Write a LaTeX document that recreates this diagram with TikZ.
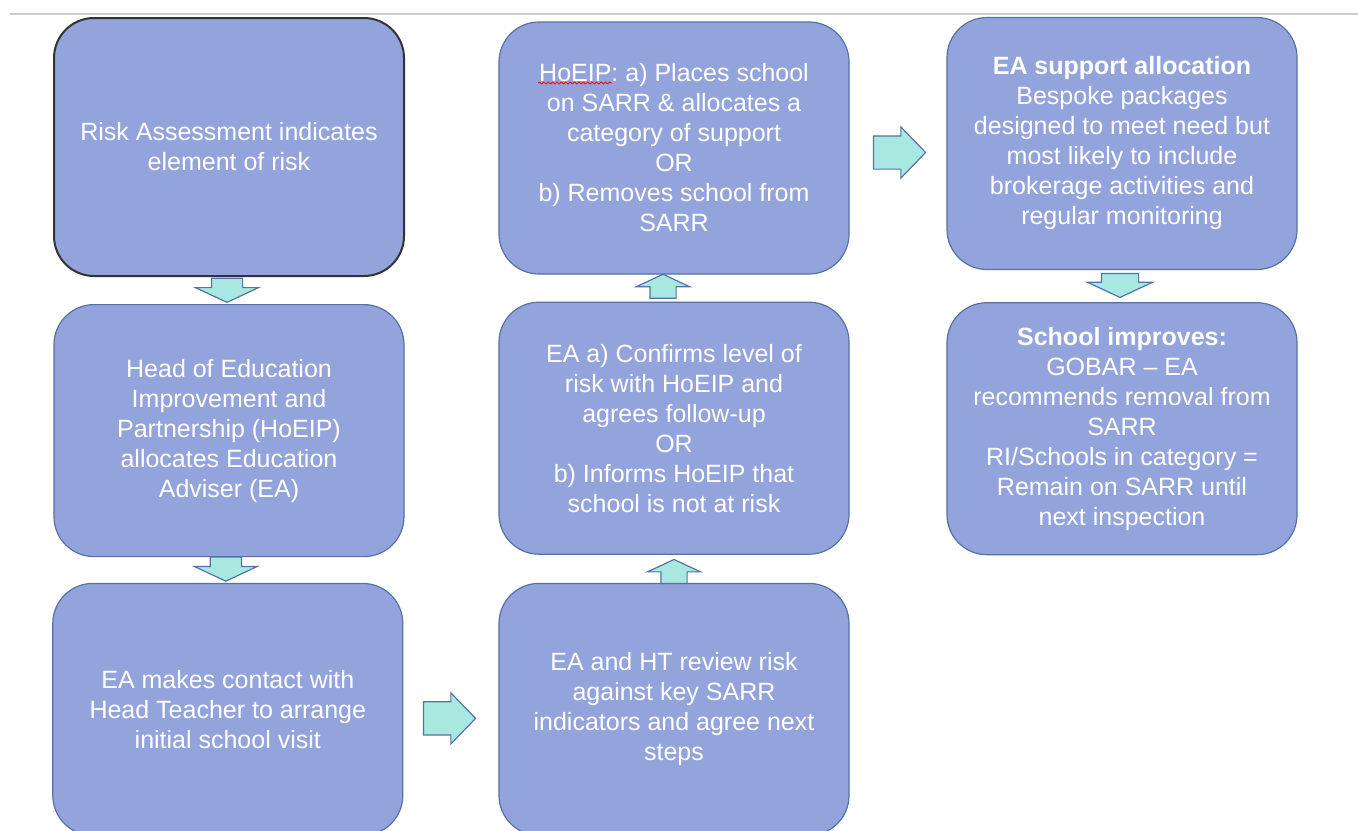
\documentclass[tikz,border=0pt]{standalone}
\usepackage{fontspec}
\setmainfont{Liberation Sans}
\usetikzlibrary{positioning,calc,shapes.arrows,decorations.pathmorphing}
\definecolor{boxfill}{RGB}{147,164,220}
\definecolor{boxline}{RGB}{84,114,166}
\definecolor{arrowfill}{RGB}{168,232,224}
\definecolor{arrowline}{RGB}{82,116,168}
\definecolor{rulegray}{RGB}{204,204,204}
\newcommand{\boxfont}{\fontsize{12.5}{15}\selectfont}

\begin{document}
\begin{tikzpicture}[x=0.5pt,y=-0.5pt,
    box/.style={draw=boxline,line width=.6pt,fill=boxfill,rounded corners=20pt,
      minimum width=175pt,minimum height=126pt,inner sep=0pt,
      text=white,align=center,font=\boxfont},
    blockarrow/.style={single arrow,draw=arrowline,line width=.6pt,fill=arrowfill,
      inner xsep=0pt,single arrow head indent=0pt,anchor=tip},
    vertarrow/.style={blockarrow,minimum height=12pt,inner ysep=7.5pt,
      single arrow head extend=8pt,single arrow tip angle=130},
    horiarrow/.style={blockarrow,minimum height=26pt,inner ysep=8pt,
      single arrow head extend=4.5pt,single arrow tip angle=92},
    spellmark/.style={red,line width=.4pt,decorate,
      decoration={snake,amplitude=.5pt,segment length=2.2pt}}]
      \clip (0,0) rectangle (1358,830);
      \draw[rulegray,line width=1pt] (10,14) -- (1358,14);

      % left column
      \node[box,draw=black!80,line width=1pt,minimum height=129pt] (risk) at (229,147)
      {Risk Assessment indicates\\element of risk};
      \node[box,below=13.5pt of risk] (head)
      {Head of Education\\Improvement and\\Partnership (HoEIP)\\allocates Education\\Adviser (EA)};

      % middle column
      \node[box] (hoeip) at (674,148)
      {HoEIP: a) Places school\\on SARR \& allocates a\\category of support\\OR\\b) Removes school from\\SARR};
      \node[box,below=13.5pt of hoeip] (check)
      {EA a) Confirms level of\\risk with HoEIP and\\agrees follow-up\\OR\\b) Informs HoEIP that\\school is not at risk};
      \node[box,below=14pt of check] (review)
      {EA and HT review risk\\against key SARR\\indicators and agree next\\steps};
      \node[box,left=47.5pt of review] (visit)
      {EA makes contact with\\Head Teacher to arrange\\initial school visit};
      % spell-check underline under HoEIP
      \draw[spellmark] ([xshift=-68pt,yshift=32.5pt]hoeip.center) -- ([xshift=-31pt,yshift=32.5pt]hoeip.center);

      % right column
      \node[box] (support) at (1122,143.5)
      {\textbf{EA support allocation}\\Bespoke packages\\designed to meet need but\\most likely to include\\brokerage activities and\\regular monitoring};
      \node[box,below=16pt of support] (improves)
      {\textbf{School improves:}\\GOBAR – EA\\recommends removal from\\SARR\\RI/Schools in category =\\Remain on SARR until\\next inspection};

      % block arrows, placed by their tips
      \node[vertarrow,rotate=-90] (a12) at ([xshift=-1pt,yshift=.5pt]head.north) {};
      \node[vertarrow,rotate=-90] (a23) at ([xshift=-1pt,yshift=.5pt]visit.north) {};
      \node[horiarrow] (a34) at ([xshift=-11pt,yshift=-4.5pt]review.west) {};
      \node[vertarrow,rotate=90,inner ysep=6.25pt,single arrow head extend=6.75pt] (a45)
      at ([yshift=-2pt]check.south) {};
      \node[vertarrow,rotate=90,inner ysep=6.25pt,single arrow head extend=6.75pt] (a56)
      at ([xshift=-5.5pt,yshift=.5pt]hoeip.south) {};
      \node[horiarrow] (a67) at ([xshift=-10pt,yshift=-4.5pt]support.west) {};
      \node[vertarrow,rotate=-90,inner ysep=9pt,single arrow head extend=7pt] (a78)
      at ([xshift=-1pt,yshift=2pt]improves.north) {};
\end{tikzpicture}
\end{document}
